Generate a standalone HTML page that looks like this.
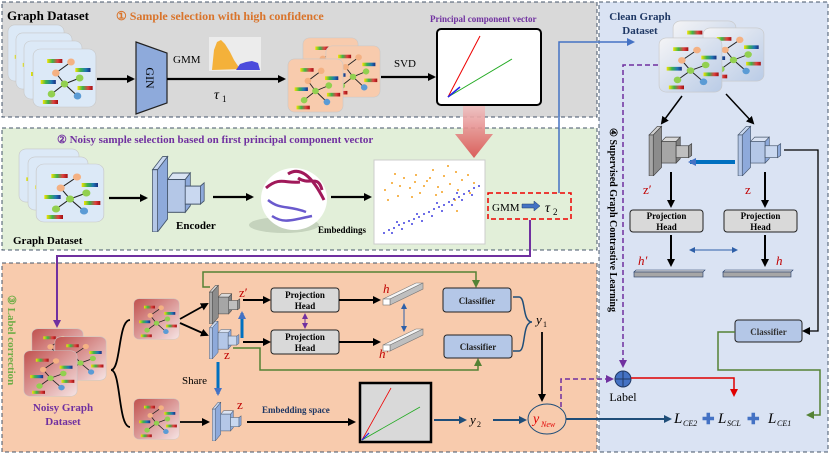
<!DOCTYPE html>
<html><head><meta charset="utf-8"><style>
html,body{margin:0;padding:0;background:#fff}
svg{display:block}
text{font-family:"Liberation Serif",serif}
.b{font-weight:bold}
</style></head><body>
<svg width="830" height="454" viewBox="0 0 830 454" xmlns="http://www.w3.org/2000/svg">
<defs>
<linearGradient id="rb" x1="0" x2="1"><stop offset="0" stop-color="#f5e400"/><stop offset=".35" stop-color="#3cb44b"/><stop offset=".7" stop-color="#1f77b4"/><stop offset="1" stop-color="#1a2f80"/></linearGradient>
<linearGradient id="rr" x1="0" x2="1"><stop offset="0" stop-color="#f5e400"/><stop offset=".35" stop-color="#3cb44b"/><stop offset=".7" stop-color="#e04040"/><stop offset="1" stop-color="#a01010"/></linearGradient>
<linearGradient id="red" x1="0" y1="0" x2="1" y2="1"><stop offset="0" stop-color="#c0504d"/><stop offset="1" stop-color="#f6e4e4"/></linearGradient>
<linearGradient id="cl" x1="0" y1="0" x2="1" y2="1"><stop offset="0" stop-color="#f4f4f6"/><stop offset="1" stop-color="#b9cbe6"/></linearGradient>
<linearGradient id="ra" x1="0" y1="0" x2="0" y2="1"><stop offset="0" stop-color="#f0c0c0"/><stop offset="1" stop-color="#d9504d"/></linearGradient>
<marker id="ak" markerWidth="8" markerHeight="8" refX="6" refY="4" orient="auto" markerUnits="userSpaceOnUse"><path d="M0,0 L8,4 L0,8 z" fill="#000"/></marker>
<marker id="ab" markerWidth="8" markerHeight="8" refX="6" refY="4" orient="auto" markerUnits="userSpaceOnUse"><path d="M0,0 L8,4 L0,8 z" fill="#1f4e79"/></marker>
<marker id="abl" markerWidth="8" markerHeight="8" refX="6" refY="4" orient="auto" markerUnits="userSpaceOnUse"><path d="M0,0 L8,4 L0,8 z" fill="#4472c4"/></marker>
<marker id="ag" markerWidth="8" markerHeight="8" refX="6" refY="4" orient="auto" markerUnits="userSpaceOnUse"><path d="M0,0 L8,4 L0,8 z" fill="#548235"/></marker>
<marker id="ap" markerWidth="8" markerHeight="8" refX="6" refY="4" orient="auto" markerUnits="userSpaceOnUse"><path d="M0,0 L8,4 L0,8 z" fill="#7030a0"/></marker>
<marker id="ar" markerWidth="8" markerHeight="8" refX="6" refY="4" orient="auto" markerUnits="userSpaceOnUse"><path d="M0,0 L8,4 L0,8 z" fill="#e00000"/></marker>
<marker id="apb" markerWidth="6" markerHeight="6" refX="5" refY="3" orient="auto-start-reverse" markerUnits="userSpaceOnUse"><path d="M0,0 L6,3 L0,6 z" fill="#7030a0"/></marker>
<marker id="abb" markerWidth="6" markerHeight="6" refX="5" refY="3" orient="auto-start-reverse" markerUnits="userSpaceOnUse"><path d="M0,0 L6,3 L0,6 z" fill="#2e5fa8"/></marker>
<symbol id="gc" viewBox="0 0 60 60" preserveAspectRatio="none">
<rect x="1" y="1" width="58" height="58" rx="7" stroke="#c8c8c8" stroke-width=".6"/>
<g stroke="#222" stroke-width="1"><line x1="22" y1="25" x2="36" y2="14"/><line x1="22" y1="25" x2="30" y2="36"/><line x1="30" y1="36" x2="44" y2="30"/><line x1="30" y1="36" x2="18" y2="46"/><line x1="30" y1="36" x2="42" y2="48"/></g>
<circle cx="36" cy="14" r="3.5" fill="#f4b183"/><circle cx="22" cy="25" r="3.5" fill="#f4b183"/><circle cx="30" cy="36" r="3.5" fill="#92d050"/><circle cx="44" cy="30" r="3.5" fill="#92d050"/><circle cx="18" cy="46" r="3.5" fill="#92d050"/><circle cx="42" cy="48" r="3.5" fill="#5b9bd5"/>
<rect x="14" y="11" width="14" height="4" fill="url(#rr)"/><rect x="40" y="20" width="14" height="4" fill="url(#rb)"/><rect x="8" y="32" width="14" height="4" fill="url(#rb)"/><rect x="42" y="38" width="14" height="4" fill="url(#rr)"/><rect x="10" y="52" width="14" height="4" fill="url(#rr)"/>
</symbol>
<symbol id="eb" viewBox="0 0 50 50" preserveAspectRatio="none">
<polygon points="2,12 10,4 14,4 6,12" fill="#c9d8f0" stroke="#44546a" stroke-width=".6"/>
<polygon points="6,12 14,4 14,42 6,50" fill="#8eaadb" stroke="#44546a" stroke-width=".6"/>
<rect x="2" y="12" width="4" height="38" fill="#b4c7e7" stroke="#44546a" stroke-width=".6"/>
<polygon points="14,18 18,14 32,14 28,18" fill="#dae3f3" stroke="#44546a" stroke-width=".6"/>
<rect x="14" y="18" width="14" height="20" fill="#b4c7e7" stroke="#44546a" stroke-width=".6"/>
<polygon points="28,18 32,14 32,34 28,38" fill="#8eaadb" stroke="#44546a" stroke-width=".6"/>
<rect x="28" y="22" width="12" height="11" fill="#c9d8f0" stroke="#44546a" stroke-width=".6"/>
<polygon points="40,22 43,20 43,31 40,33" fill="#8eaadb" stroke="#44546a" stroke-width=".6"/>
</symbol>
<symbol id="eg" viewBox="0 0 50 50" preserveAspectRatio="none">
<polygon points="2,12 10,4 14,4 6,12" fill="#d0d0d0" stroke="#404040" stroke-width=".6"/>
<polygon points="6,12 14,4 14,42 6,50" fill="#8c8c8c" stroke="#404040" stroke-width=".6"/>
<rect x="2" y="12" width="4" height="38" fill="#a6a6a6" stroke="#404040" stroke-width=".6"/>
<polygon points="14,18 18,14 32,14 28,18" fill="#d9d9d9" stroke="#404040" stroke-width=".6"/>
<rect x="14" y="18" width="14" height="20" fill="#a6a6a6" stroke="#404040" stroke-width=".6"/>
<polygon points="28,18 32,14 32,34 28,38" fill="#7f7f7f" stroke="#404040" stroke-width=".6"/>
<rect x="28" y="22" width="12" height="11" fill="#bfbfbf" stroke="#404040" stroke-width=".6"/>
<polygon points="40,22 43,20 43,31 40,33" fill="#8c8c8c" stroke="#404040" stroke-width=".6"/>
</symbol>
</defs>

<!-- panels -->
<rect x="2" y="2" width="595" height="115" fill="#d9d9d9" stroke="#44546a" stroke-dasharray="4,3"/>
<rect x="2" y="128" width="595" height="122" fill="#e2efd9" stroke="#44546a" stroke-dasharray="4,3"/>
<rect x="2" y="263" width="595" height="189" fill="#f8cbad" stroke="#44546a" stroke-dasharray="4,3"/>
<rect x="599" y="2" width="229" height="450" fill="#dae3f3" stroke="#44546a" stroke-dasharray="4,3"/>

<!-- PANEL 1 -->
<text x="7" y="20" class="b" font-size="13">Graph Dataset</text>
<text x="116" y="20" class="b" font-size="12" fill="#d9742b">①  Sample selection with high confidence</text>
<use href="#gc" x="7" y="24" width="58" height="58" fill="#dce9f7"/>
<use href="#gc" x="15" y="32" width="58" height="58" fill="#dce9f7"/>
<use href="#gc" x="23" y="40" width="60" height="60" fill="#dce9f7"/>
<use href="#gc" x="32" y="48" width="65" height="60" fill="#dce9f7"/>
<line x1="97" y1="79" x2="133" y2="79" stroke="#000" stroke-width="2.2" marker-end="url(#ak)"/>
<polygon points="136,42 167,53 167,103 136,114" fill="#8eaadb" stroke="#222" stroke-width="1.2"/>
<text x="146" y="78" font-size="12" transform="rotate(90 146 78)" text-anchor="middle">GIN</text>
<text x="173" y="63" font-size="11">GMM</text>
<rect x="209" y="37" width="52" height="34" fill="#ececec"/>
<path d="M212,70 L214,50 L217,42 L221,40 L225,44 L230,52 L234,60 L238,66 L242,69 L212,70z" fill="#f4b13a"/>
<path d="M236,70 L240,64 L246,62 L252,61 L258,63 L260,70z" fill="#4b4bdc"/>
<line x1="167" y1="79" x2="284" y2="79" stroke="#000" stroke-width="2.2" marker-end="url(#ak)"/>
<text x="214" y="99" font-size="14" font-style="italic">τ</text><text x="222" y="102" font-size="9">1</text>
<use href="#gc" x="302" y="37" width="57" height="52" fill="#f8cbad"/>
<use href="#gc" x="325" y="45" width="56" height="53" fill="#f8cbad"/>
<use href="#gc" x="287" y="58" width="57" height="55" fill="#f8cbad"/>
<text x="394" y="67" font-size="11">SVD</text>
<line x1="381" y1="77" x2="434" y2="77" stroke="#000" stroke-width="2.2" marker-end="url(#ak)"/>
<text x="430" y="22" class="b" font-size="9" fill="#7030a0">Principal component vector</text>
<rect x="437" y="29" width="104" height="76" rx="4" fill="#fff" stroke="#000" stroke-width="2"/>
<line x1="448" y1="97" x2="480" y2="36" stroke="#e00" stroke-width="1"/>
<line x1="448" y1="97" x2="512" y2="59" stroke="#2a2" stroke-width="1"/>
<line x1="448" y1="97" x2="460" y2="87" stroke="#22e" stroke-width="1.5"/>
<polygon points="463,106 485,106 485,134 493,134 474,158 455,134 463,134" fill="url(#ra)" opacity=".9"/>

<!-- PANEL 2 -->
<text x="57" y="143" class="b" font-size="11" fill="#7030a0">②  Noisy sample selection based on first principal component vector</text>
<use href="#gc" x="18" y="148" width="62" height="55" fill="#dce9f7"/>
<use href="#gc" x="27" y="156" width="62" height="55" fill="#dce9f7"/>
<use href="#gc" x="35" y="163" width="70" height="60" fill="#dce9f7"/>
<text x="13" y="244" class="b" font-size="11">Graph Dataset</text>
<line x1="109" y1="198" x2="146" y2="198" stroke="#000" stroke-width="2.2" marker-end="url(#ak)"/>
<use href="#eb" x="150" y="150" width="63" height="82"/>
<text x="176" y="229" class="b" font-size="11">Encoder</text>
<line x1="213" y1="197" x2="252" y2="197" stroke="#000" stroke-width="2.2" marker-end="url(#ak)"/>
<ellipse cx="284" cy="225" rx="35" ry="8" fill="#c5d3bd"/>
<ellipse cx="294" cy="199" rx="33" ry="31" fill="#fff"/>
<path d="M266,188 C280,176 286,184 300,182 M288,174 C300,166 312,176 324,200 M298,178 C310,186 318,174 322,190" stroke="#a0195a" stroke-width="3" fill="none"/>
<path d="M268,200 C280,210 288,205 306,212 M272,216 C284,224 292,220 312,216" stroke="#6a5acd" stroke-width="2.5" fill="none"/>
<text x="318" y="233" class="b" font-size="9">Embeddings</text>
<line x1="331" y1="197" x2="370" y2="197" stroke="#000" stroke-width="2.2" marker-end="url(#ak)"/>
<rect x="374" y="160" width="111" height="84" fill="#fff" stroke="#ccc"/>
<g fill="#f4a020">
<circle cx="385" cy="190" r="1"/><circle cx="392" cy="183" r="1"/><circle cx="398" cy="196" r="1"/><circle cx="404" cy="178" r="1"/><circle cx="410" cy="188" r="1"/><circle cx="416" cy="175" r="1"/><circle cx="420" cy="193" r="1"/><circle cx="427" cy="181" r="1"/><circle cx="433" cy="170" r="1"/><circle cx="438" cy="187" r="1"/><circle cx="444" cy="176" r="1"/><circle cx="450" cy="184" r="1"/><circle cx="456" cy="172" r="1"/><circle cx="462" cy="180" r="1"/><circle cx="468" cy="175" r="1"/><circle cx="474" cy="183" r="1"/><circle cx="388" cy="200" r="1"/><circle cx="400" cy="186" r="1"/><circle cx="412" cy="197" r="1"/><circle cx="424" cy="186" r="1"/><circle cx="436" cy="195" r="1"/><circle cx="448" cy="166" r="1"/><circle cx="458" cy="190" r="1"/><circle cx="470" cy="193" r="1"/><circle cx="395" cy="174" r="1"/><circle cx="430" cy="178" r="1"/><circle cx="455" cy="200" r="1"/><circle cx="415" cy="182" r="1"/><circle cx="442" cy="192" r="1"/><circle cx="457" cy="211" r="1"/>
</g>
<g fill="#4040e0">
<circle cx="384" cy="233" r="1"/><circle cx="389" cy="230" r="1"/><circle cx="394" cy="228" r="1"/><circle cx="399" cy="225" r="1"/><circle cx="404" cy="223" r="1"/><circle cx="409" cy="221" r="1"/><circle cx="414" cy="219" r="1"/><circle cx="419" cy="217" r="1"/><circle cx="424" cy="214" r="1"/><circle cx="429" cy="212" r="1"/><circle cx="434" cy="209" r="1"/><circle cx="439" cy="207" r="1"/><circle cx="444" cy="205" r="1"/><circle cx="449" cy="202" r="1"/><circle cx="454" cy="199" r="1"/><circle cx="459" cy="197" r="1"/><circle cx="464" cy="194" r="1"/><circle cx="469" cy="191" r="1"/><circle cx="474" cy="188" r="1"/><circle cx="479" cy="186" r="1"/><circle cx="392" cy="233" r="1"/><circle cx="402" cy="229" r="1"/><circle cx="412" cy="224" r="1"/><circle cx="422" cy="221" r="1"/><circle cx="432" cy="216" r="1"/><circle cx="442" cy="211" r="1"/><circle cx="452" cy="205" r="1"/><circle cx="462" cy="200" r="1"/><circle cx="472" cy="195" r="1"/><circle cx="397" cy="222" r="1"/><circle cx="417" cy="214" r="1"/><circle cx="437" cy="203" r="1"/><circle cx="457" cy="193" r="1"/>
</g>
<text x="375" y="243" font-size="3" fill="#555"> </text>
<rect x="488" y="193" width="83" height="26" fill="none" stroke="#e00" stroke-width="1.5" stroke-dasharray="5,3"/>
<text x="492" y="211" font-size="11">GMM</text>
<path d="M522,204 h12 v-3 l6,5 l-6,5 v-3 h-12z" fill="#4472c4" stroke="#1f3864" stroke-width=".5"/>
<text x="545" y="212" font-size="14" font-style="italic">τ</text><text x="553" y="215" font-size="9">2</text>
<polyline points="559,193 559,42 633,42" fill="none" stroke="#4472c4" stroke-width="1.5" marker-end="url(#abl)"/>
<polyline points="530,220 530,256 57,256 57,326" fill="none" stroke="#7030a0" stroke-width="2" marker-end="url(#ap)"/>

<!-- PANEL 3 -->
<text x="8" y="295" font-size="11" class="b" fill="#70ad47" transform="rotate(90 8 295)">③  Label correction</text>
<use href="#gc" x="31" y="328" width="53" height="45" fill="url(#red)"/>
<use href="#gc" x="54" y="336" width="53" height="45" fill="url(#red)"/>
<use href="#gc" x="23" y="350" width="55" height="47" fill="url(#red)"/>
<text x="63" y="411" class="b" font-size="11" fill="#7030a0" text-anchor="middle">Noisy Graph</text>
<text x="63" y="425" class="b" font-size="11" fill="#7030a0" text-anchor="middle">Dataset</text>
<path d="M130,320 C118,320 121,370 111,370 C121,370 118,427 130,427" fill="none" stroke="#000" stroke-width="1.8"/>
<use href="#gc" x="133" y="298" width="47" height="42" fill="url(#red)"/>
<use href="#gc" x="133" y="398" width="47" height="42" fill="url(#red)"/>
<line x1="180" y1="319" x2="207" y2="304" stroke="#000" stroke-width="1.8" marker-end="url(#ak)"/>
<line x1="180" y1="323" x2="207" y2="335" stroke="#000" stroke-width="1.8" marker-end="url(#ak)"/>
<line x1="180" y1="422" x2="208" y2="422" stroke="#000" stroke-width="1.8" marker-end="url(#ak)"/>
<polyline points="210,287 203,287 203,272 476,272 476,286" fill="none" stroke="#548235" stroke-width="1.5" marker-end="url(#ag)"/>
<polyline points="233,348 260,348 260,370 478,370 478,360" fill="none" stroke="#548235" stroke-width="1.5" marker-end="url(#ag)"/>
<use href="#eg" x="208" y="282" width="37" height="42"/>
<use href="#eb" x="208" y="318" width="36" height="41"/>
<use href="#eb" x="211" y="399" width="35" height="42"/>
<text x="239" y="297" font-size="13" fill="#c00000">z′</text>
<text x="224" y="359" font-size="13" fill="#c00000">z</text>
<text x="237" y="409" font-size="13" fill="#c00000">z</text>
<line x1="242" y1="338" x2="242" y2="313" stroke="#0070c0" stroke-width="3" marker-end="url(#abl)"/>
<line x1="218" y1="362" x2="218" y2="394" stroke="#0070c0" stroke-width="3" marker-end="url(#abl)"/>
<text x="182" y="384" font-size="11">Share</text>
<line x1="243" y1="300" x2="269" y2="300" stroke="#000" stroke-width="2" marker-end="url(#ak)"/>
<line x1="243" y1="342" x2="269" y2="342" stroke="#000" stroke-width="2" marker-end="url(#ak)"/>
<rect x="271" y="288" width="68" height="24" rx="3" fill="#d9d9d9" stroke="#222"/>
<rect x="271" y="330" width="68" height="24" rx="3" fill="#d9d9d9" stroke="#222"/>
<text x="305" y="298" class="b" font-size="9" text-anchor="middle">Projection</text>
<text x="305" y="309" class="b" font-size="9" text-anchor="middle">Head</text>
<text x="305" y="340" class="b" font-size="9" text-anchor="middle">Projection</text>
<text x="305" y="351" class="b" font-size="9" text-anchor="middle">Head</text>
<line x1="305" y1="314" x2="305" y2="328" stroke="#7030a0" stroke-width="1" marker-start="url(#apb)" marker-end="url(#apb)"/>
<line x1="339" y1="300" x2="379" y2="300" stroke="#000" stroke-width="2" marker-end="url(#ak)"/>
<line x1="339" y1="342" x2="379" y2="342" stroke="#000" stroke-width="2" marker-end="url(#ak)"/>
<text x="383" y="293" font-size="13" font-style="italic" fill="#c00000">h</text>
<text x="379" y="358" font-size="13" font-style="italic" fill="#c00000">h′</text>
<polygon points="383,299 416,283 423,283 390,299" fill="#f5f5f5" stroke="#777" stroke-width=".6"/>
<polygon points="390,299 423,283 423,289 390,305" fill="#bfbfbf" stroke="#777" stroke-width=".6"/>
<rect x="383" y="299" width="7" height="6" fill="#fff" stroke="#777" stroke-width=".6"/>
<polygon points="383,345 416,329 423,329 390,345" fill="#f5f5f5" stroke="#777" stroke-width=".6"/>
<polygon points="390,345 423,329 423,335 390,351" fill="#bfbfbf" stroke="#777" stroke-width=".6"/>
<rect x="383" y="345" width="7" height="6" fill="#fff" stroke="#777" stroke-width=".6"/>
<line x1="404" y1="304" x2="404" y2="331" stroke="#2e5fa8" stroke-width="1" marker-start="url(#abb)" marker-end="url(#abb)"/>
<rect x="443" y="288" width="68" height="24" rx="3" fill="#b4c7e7" stroke="#222"/>
<rect x="444" y="335" width="68" height="23" rx="3" fill="#b4c7e7" stroke="#222"/>
<text x="477" y="304" class="b" font-size="9" text-anchor="middle" fill="#222">Classifier</text>
<text x="478" y="350" class="b" font-size="9" text-anchor="middle" fill="#222">Classifier</text>
<path d="M513,297 H519 C526,297 522,322 532,322 C522,322 526,351 519,351 H513" fill="none" stroke="#1f4e79" stroke-width="1.5"/>
<text x="536" y="324" font-size="13" font-style="italic">y</text><text x="543" y="327" font-size="8">1</text>
<line x1="542" y1="332" x2="542" y2="400" stroke="#000" stroke-width="1.8" marker-end="url(#ak)"/>
<text x="262" y="413" class="b" font-size="9" fill="#1f3864">Embedding space</text>
<line x1="247" y1="422" x2="354" y2="422" stroke="#000" stroke-width="2" marker-end="url(#ak)"/>
<rect x="360" y="383" width="71" height="59" fill="#d9d9d9" stroke="#000" stroke-width="2.5"/>
<line x1="362" y1="440" x2="391" y2="388" stroke="#e00" stroke-width=".8"/>
<line x1="362" y1="440" x2="420" y2="407" stroke="#2a2" stroke-width=".8"/>
<line x1="362" y1="440" x2="369" y2="433" stroke="#22e" stroke-width="1.2"/>
<line x1="434" y1="420" x2="465" y2="420" stroke="#1f4e79" stroke-width="2" marker-end="url(#ab)"/>
<text x="470" y="424" font-size="13" font-style="italic">y</text><text x="477" y="427" font-size="8">2</text>
<line x1="493" y1="420" x2="525" y2="420" stroke="#1f4e79" stroke-width="2" marker-end="url(#ab)"/>
<ellipse cx="547" cy="419" rx="19" ry="15" fill="none" stroke="#1f4e79" stroke-width="1"/>
<text x="533" y="423" font-size="14" font-style="italic" fill="#e00000">y</text><text x="541" y="427" font-size="8" font-style="italic" fill="#e00000">New</text>
<line x1="566" y1="419" x2="670" y2="419" stroke="#1f4e79" stroke-width="2" marker-end="url(#ab)"/>
<polyline points="561,407 561,379 612,379" fill="none" stroke="#7030a0" stroke-width="1.5" stroke-dasharray="5,3" marker-end="url(#ap)"/>

<!-- PANEL 4 -->
<text x="640" y="20" class="b" font-size="11" fill="#1f3864" text-anchor="middle">Clean Graph</text>
<text x="640" y="34" class="b" font-size="11" fill="#1f3864" text-anchor="middle">Dataset</text>
<use href="#gc" x="672" y="20" width="65" height="58" fill="url(#cl)"/>
<use href="#gc" x="702" y="27" width="63" height="55" fill="url(#cl)"/>
<use href="#gc" x="658" y="37" width="65" height="56" fill="url(#cl)"/>
<polyline points="658,65 623,65 623,366" fill="none" stroke="#7030a0" stroke-width="1.5" stroke-dasharray="5,3" marker-end="url(#ap)"/>
<text x="610" y="128" class="b" font-size="10" transform="rotate(90 610 128)">④  Supervised Graph Contrastive Learning</text>
<line x1="682" y1="96" x2="662" y2="123" stroke="#000" stroke-width="1.5" marker-end="url(#ak)"/>
<line x1="726" y1="94" x2="753" y2="123" stroke="#000" stroke-width="1.5" marker-end="url(#ak)"/>
<use href="#eg" x="647" y="122" width="52" height="54"/>
<use href="#eb" x="736" y="122" width="52" height="54"/>
<line x1="735" y1="162" x2="690" y2="162" stroke="#0070c0" stroke-width="4" marker-end="url(#abl)"/>
<text x="643" y="194" font-size="13" fill="#c00000">z′</text>
<text x="745" y="194" font-size="13" fill="#c00000">z</text>
<line x1="671" y1="172" x2="671" y2="206" stroke="#000" stroke-width="2" marker-end="url(#ak)"/>
<line x1="765" y1="172" x2="765" y2="206" stroke="#000" stroke-width="2" marker-end="url(#ak)"/>
<rect x="630" y="210" width="73" height="22" rx="3" fill="#d9d9d9" stroke="#222"/>
<rect x="724" y="210" width="73" height="22" rx="3" fill="#d9d9d9" stroke="#222"/>
<text x="666.5" y="219" class="b" font-size="9" text-anchor="middle">Projection</text>
<text x="666.5" y="230" class="b" font-size="9" text-anchor="middle">Head</text>
<text x="760.5" y="219" class="b" font-size="9" text-anchor="middle">Projection</text>
<text x="760.5" y="230" class="b" font-size="9" text-anchor="middle">Head</text>
<line x1="671" y1="235" x2="671" y2="265" stroke="#000" stroke-width="2" marker-end="url(#ak)"/>
<line x1="765" y1="235" x2="765" y2="265" stroke="#000" stroke-width="2" marker-end="url(#ak)"/>
<line x1="690" y1="250" x2="737" y2="250" stroke="#2e5fa8" stroke-width="1" marker-start="url(#abb)" marker-end="url(#abb)"/>
<text x="638" y="265" font-size="13" font-style="italic" fill="#c00000">h′</text>
<text x="776" y="265" font-size="13" font-style="italic" fill="#c00000">h</text>
<polygon points="634,272 636,270 705,270 703,272" fill="#d9d9d9" stroke="#1f3864" stroke-width=".6"/>
<rect x="634" y="272" width="69" height="5" fill="#a6a6a6" stroke="#1f3864" stroke-width=".6"/>
<polygon points="723,272 725,270 793,270 791,272" fill="#d9d9d9" stroke="#1f3864" stroke-width=".6"/>
<rect x="723" y="272" width="68" height="5" fill="#a6a6a6" stroke="#1f3864" stroke-width=".6"/>
<polyline points="784,150 818,150 818,331 804,331" fill="none" stroke="#000" stroke-width="1.3" marker-end="url(#ak)"/>
<rect x="735" y="320" width="67" height="22" rx="3" fill="#b4c7e7" stroke="#222"/>
<text x="768.5" y="335" class="b" font-size="9" text-anchor="middle" fill="#333">Classifier</text>
<polyline points="735,332 718,332 718,370 820,370 820,415 808,415" fill="none" stroke="#548235" stroke-width="1.5" marker-end="url(#ag)"/>
<circle cx="623" cy="379" r="8" fill="#4472c4" stroke="#1f3864"/>
<line x1="615" y1="379" x2="631" y2="379" stroke="#1f3864"/><line x1="623" y1="371" x2="623" y2="387" stroke="#1f3864"/>
<text x="623" y="401" font-size="12" text-anchor="middle">Label</text>
<polyline points="631,378 734,378 734,395" fill="none" stroke="#e00000" stroke-width="1.5" marker-end="url(#ar)"/>
<text x="674" y="423" font-size="15" font-style="italic">L</text><text x="683" y="426" font-size="8" font-style="italic">CE2</text>
<text x="702" y="424" font-size="15" class="b" fill="#4472c4">✚</text>
<text x="718" y="423" font-size="15" font-style="italic">L</text><text x="727" y="426" font-size="8" font-style="italic">SCL</text>
<text x="747" y="424" font-size="15" class="b" fill="#4472c4">✚</text>
<text x="768" y="423" font-size="15" font-style="italic">L</text><text x="777" y="426" font-size="8" font-style="italic">CE1</text>
</svg>
</body></html>
